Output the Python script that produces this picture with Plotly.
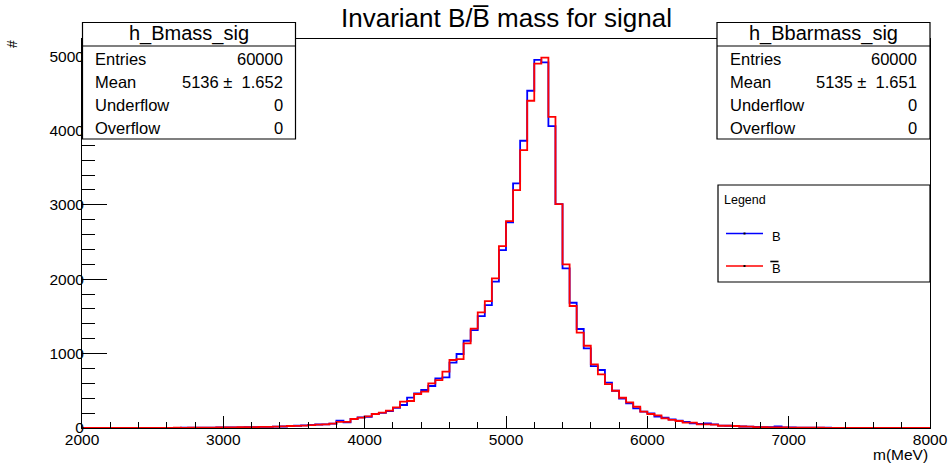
import numpy as np
import plotly.graph_objects as go

# ---------------- data ----------------
BIN_START = 2000
BIN_WIDTH = 50

b_counts = [
    0, 0, 0, 1, 0, 1, 1, 1, 2, 2,                                   # 2000-2500
    2, 3, 3, 3, 4, 4, 5, 5, 6, 7,                                   # 2500-3000
    7, 8, 9, 11, 12, 14, 16, 19, 20, 25,                            # 3000-3500
    30, 34, 40, 47, 50, 58, 99, 76, 121, 142,                       # 3500-4000
    151, 186, 204, 228, 270, 309, 408, 466, 511, 565,               # 4000-4500
    668, 681, 878, 995, 1173, 1317, 1505, 1653, 1967, 2392,         # 4500-5000
    2765, 3288, 3862, 4534, 4950, 4917, 4059, 3010, 2146, 1684,     # 5000-5500
    1331, 1071, 833, 780, 609, 501, 394, 332, 264, 219,             # 5500-6000
    197, 152, 139, 117, 99, 81, 63, 54, 63, 48,                     # 6000-6500
    32, 30, 27, 20, 18, 14, 12, 10, 22, 8,                          # 6500-7000
    7, 6, 5, 5, 4, 4, 3, 3, 3, 2,                                   # 7000-7500
    2, 2, 2, 1, 1, 1, 1, 1, 0, 0,                                   # 7500-8000
]

bbar_counts = [
    0, 0, 1, 0, 0, 1, 1, 2, 1, 2,                                   # 2000-2500
    2, 2, 3, 4, 3, 5, 5, 6, 6, 7,                                   # 2500-3000
    8, 8, 10, 10, 12, 14, 15, 18, 21, 27,                           # 3000-3500
    28, 33, 38, 46, 49, 58, 82, 82, 121, 139,                       # 3500-4000
    157, 188, 206, 233, 278, 354, 363, 457, 488, 601,               # 4000-4500
    645, 757, 914, 927, 1138, 1335, 1555, 1707, 2012, 2446,         # 4500-5000
    2782, 3199, 3737, 4400, 4900, 4980, 4184, 3010, 2200, 1640,     # 5000-5500
    1281, 1106, 856, 722, 591, 501, 407, 345, 286, 219,             # 5500-6000
    188, 170, 130, 108, 94, 72, 72, 49, 49, 45,                     # 6000-6500
    30, 30, 27, 20, 18, 13, 11, 9, 8, 7,                            # 6500-7000
    6, 6, 5, 4, 4, 3, 3, 2, 2, 2,                                   # 7000-7500
    2, 1, 1, 1, 1, 1, 0, 1, 0, 0,                                   # 7500-8000
]

x_tick_values = [2000, 3000, 4000, 5000, 6000, 7000, 8000]
y_tick_values = [0, 1000, 2000, 3000, 4000, 5000]

stats_b = {"name": "h_Bmass_sig", "entries": "60000", "mean": "5136 \u00b1  1.652",
           "underflow": "0", "overflow": "0"}
stats_bbar = {"name": "h_Bbarmass_sig", "entries": "60000", "mean": "5135 \u00b1  1.651",
              "underflow": "0", "overflow": "0"}

# ---------------- layout geometry (pixels) ----------------
W, H = 950, 468
L, R, T, B = 82, 20, 39, 40
PW, PH = W - L - R, H - T - B
FONT = "Liberation Sans, Arial, Helvetica, sans-serif"


def px(x):
    return (x - L) / PW


def py(y):
    return (H - B - y) / PH


def step_xy(counts):
    n = len(counts)
    edges = BIN_START + BIN_WIDTH * np.arange(n + 1)
    y = list(counts) + [counts[-1]]
    return edges, y


fig = go.Figure()
for counts, color in [(b_counts, "#0000ff"), (bbar_counts, "#ff0000")]:
    xe, ye = step_xy(counts)
    fig.add_trace(go.Scatter(x=xe, y=ye, mode="lines", line=dict(color=color, width=1.8, shape="hv"),
                             hoverinfo="skip", showlegend=False))

shapes = []
annotations = []


def rect(x0, y0, x1, y1, lw=1.2):
    shapes.append(dict(type="rect", xref="paper", yref="paper", x0=px(x0), x1=px(x1), y0=py(y1), y1=py(y0),
                       line=dict(color="black", width=lw), fillcolor="white", layer="above"))


def hline(x0, x1, y, color="black", lw=1.2):
    shapes.append(dict(type="line", xref="paper", yref="paper", x0=px(x0), x1=px(x1), y0=py(y), y1=py(y),
                       line=dict(color=color, width=lw), layer="above"))


def text(x, y, s, size, xanchor="left", color="black", angle=0):
    annotations.append(dict(xref="paper", yref="paper", x=px(x), y=py(y), text=s, showarrow=False,
                            xanchor=xanchor, yanchor="middle", textangle=angle,
                            font=dict(family=FONT, size=size, color=color)))


def stat_box(x0, x1, st):
    y0, ysep, y1 = 22.5, 46, 139
    rect(x0, y0, x1, y1)
    hline(x0, x1, ysep)
    text((x0 + x1) / 2, 33.5, st["name"], 20, xanchor="center")
    rows = [("Entries", st["entries"]), ("Mean", st["mean"]),
            ("Underflow", st["underflow"]), ("Overflow", st["overflow"])]
    for i, (lab, val) in enumerate(rows):
        yy = 58.5 + i * 23.3
        text(x0 + 10.5, yy, lab, 16.5)
        text(x1 - 11, yy, val, 16.5, xanchor="right")


stat_box(82.5, 295.5, stats_b)
stat_box(717, 930, stats_bbar)

# legend box
rect(718, 185, 930, 282)
text(722, 200, "Legend", 12.5)
hline(726, 763, 233.5, color="#0000ff", lw=1.5)
hline(726, 763, 266, color="#ff0000", lw=1.5)
for yy in (233.5, 266):
    shapes.append(dict(type="rect", xref="paper", yref="paper", x0=px(743.5), x1=px(745.5),
                       y0=py(yy + 1), y1=py(yy - 1), line=dict(width=0), fillcolor="black", layer="above"))
text(770, 236, "B", 13)
text(770, 268.5, "B", 13)
hline(770.3, 778.5, 261.5, lw=1.6)

# title
text(507, 18, "Invariant B/B\u0305 mass for signal", 26, xanchor="center")

# axis titles
text(930, 455, "m(MeV)", 15.5, xanchor="right")
text(12, 44, "#", 14, xanchor="center", angle=-90)

fig.update_layout(
    template="none",
    width=W, height=H,
    margin=dict(l=L, r=R, t=T, b=B, pad=0, autoexpand=False),
    paper_bgcolor="white", plot_bgcolor="white",
    showlegend=False,
    font=dict(family=FONT, size=15.5, color="black"),
    shapes=shapes, annotations=annotations,
    xaxis=dict(range=[2000, 8000], tickvals=x_tick_values, ticks="inside", ticklen=12, tickwidth=1,
               tickcolor="black", showgrid=False, zeroline=False, showline=True, linecolor="black",
               linewidth=1, mirror=True, tickfont=dict(size=15.5), automargin=False,
               ticklabelstandoff=-3,
               minor=dict(dtick=200, ticks="inside", ticklen=6, tickcolor="black", showgrid=False)),
    yaxis=dict(range=[0, 5230], tickvals=y_tick_values, ticks="inside", ticklen=25, tickwidth=1,
               tickcolor="black", showgrid=False, zeroline=False, showline=True, linecolor="black",
               linewidth=1, mirror=True, tickfont=dict(size=15.5), automargin=False,
               ticklabelstandoff=-6,
               minor=dict(dtick=200, ticks="inside", ticklen=13, tickcolor="black", showgrid=False)),
)

fig.write_html("out.html")
